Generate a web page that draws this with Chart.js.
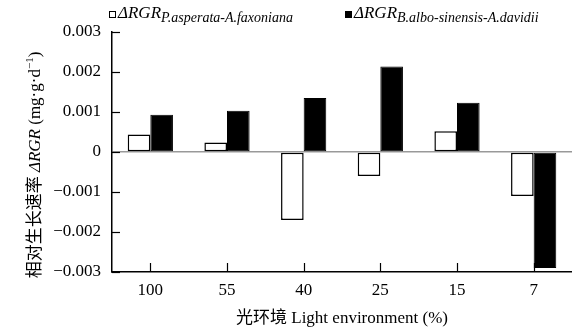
<!DOCTYPE html>
<html>
<head>
<meta charset="utf-8">
<script src="https://cdn.jsdelivr.net/npm/chart.js@4.4.1/dist/chart.umd.min.js"></script>
<style>
  html, body { margin: 0; padding: 0; background: #fff; }
  #wrap { width: 572px; height: 333px; position: relative; }
</style>
</head>
<body>
<div id="wrap"><canvas id="grafico"></canvas></div>
<script>
// datos
var etiquetas = ['100', '55', '40', '25', '15', '7'];
var rgrPicea = [0.00044, 0.00024, -0.0017, -0.0006, 0.00052, -0.0011];
var rgrBetula = [0.00093, 0.00103, 0.00135, 0.00214, 0.00123, -0.0029];
var subPicea = 'P.asperata-A.faxoniana';
var subBetula = 'B.albo-sinensis-A.davidii';
var tituloX = '光环境 Light environment (%)';

var serif = '"Liberation Serif", "Noto Sans CJK SC", serif';

// leyenda, titulo del eje y y marcas interiores
var extras = {
  id: 'extras',
  afterDraw: function (chart) {
    var c = chart.ctx;
    var xs = chart.scales.x, ys = chart.scales.y;
    var area = chart.chartArea;
    c.save();
    c.strokeStyle = '#000';
    c.lineWidth = 1.2;
    // marcas hacia dentro en el eje y
    ys.ticks.forEach(function (t) {
      var py = Math.round(ys.getPixelForValue(t.value)) + 0.5;
      c.beginPath();
      c.moveTo(area.left, py);
      c.lineTo(area.left + 8, py);
      c.stroke();
    });
    // marcas hacia arriba en el eje x
    for (var i = 0; i < etiquetas.length; i++) {
      var px = Math.round(xs.getPixelForValue(i)) + 0.5;
      c.beginPath();
      c.moveTo(px, area.bottom);
      c.lineTo(px, area.bottom - 9);
      c.stroke();
    }

    // leyenda
    function entrada(x, sub, relleno) {
      c.fillStyle = relleno;
      c.strokeStyle = '#000';
      c.lineWidth = 1;
      c.fillRect(x, 11, 7, 7);
      c.strokeRect(x + 0.5, 11.5, 6, 6);
      c.fillStyle = '#000';
      c.textBaseline = 'alphabetic';
      c.textAlign = 'left';
      c.font = 'italic 17px ' + serif;
      c.fillText('ΔRGR', x + 9, 18);
      var w = c.measureText('ΔRGR').width;
      c.font = 'italic 14px ' + serif;
      c.fillText(sub, x + 9 + w, 22);
    }
    entrada(109, subPicea, '#fff');
    entrada(345, subBetula, '#000');

    // titulo eje y con cursiva y superindice
    c.translate(36, 165);
    c.rotate(-Math.PI / 2);
    c.textBaseline = 'middle';
    var partes = [
      ['相对生长速率 ', '17px ' + serif, 0],
      ['ΔRGR', 'italic 17px ' + serif, 0],
      [' (mg·g·d', '17px ' + serif, 0],
      ['−1', '11px ' + serif, -6],
      [')', '17px ' + serif, 0]
    ];
    var total = 0;
    partes.forEach(function (p) { c.font = p[1]; total += c.measureText(p[0]).width; });
    var x0 = -total / 2;
    c.textAlign = 'left';
    partes.forEach(function (p) {
      c.font = p[1];
      c.fillText(p[0], x0, p[2]);
      x0 += c.measureText(p[0]).width;
    });
    c.restore();
  }
};

var ctx = document.getElementById('grafico');
var grafico = new Chart(ctx, {
  type: 'bar',
  plugins: [extras],
  data: {
    labels: etiquetas,
    datasets: [{
      label: 'ΔRGR ' + subPicea,
      data: rgrPicea,
      backgroundColor: '#fff',
      borderColor: '#000',
      borderWidth: 1.5,
      borderSkipped: false
    }, {
      label: 'ΔRGR ' + subBetula,
      data: rgrBetula,
      backgroundColor: '#000',
      borderColor: '#000',
      borderWidth: 1,
      borderSkipped: false
    }]
  },
  options: {
    responsive: true,
    maintainAspectRatio: false,
    animation: false,
    layout: { padding: { top: 32, right: 0, left: 0, bottom: 0 } },
    plugins: {
      legend: { display: false },
      tooltip: { enabled: false }
    },
    datasets: {
      bar: { categoryPercentage: 0.59, barPercentage: 1 }
    },
    scales: {
      x: {
        grid: { display: true, offset: false, drawOnChartArea: false, drawTicks: false },
        border: { color: '#000', width: 1.5 },
        ticks: {
          color: '#000',
          padding: 8,
          font: { family: serif, size: 17 }
        },
        title: {
          display: true,
          text: tituloX,
          color: '#000',
          font: { family: serif, size: 17 },
          padding: { top: 2, bottom: 4 }
        },
        afterFit: function (s) { s.height = 61; }
      },
      y: {
        min: -0.003,
        max: 0.003,
        grid: {
          drawTicks: false,
          color: function (c) { return c.tick && c.tick.value === 0 ? '#999' : 'rgba(0,0,0,0)'; },
          lineWidth: 1.5
        },
        border: { color: '#000', width: 1.5 },
        ticks: {
          stepSize: 0.001,
          color: '#000',
          padding: 11,
          font: { family: serif, size: 17 },
          callback: function (v) {
            var r = Math.round(v * 1000) / 1000;
            if (r === 0) return '0';
            return (r < 0 ? '−' : '') + Math.abs(r).toFixed(3);
          }
        },
        afterFit: function (s) { s.width = 112; }
      }
    }
  }
});
</script>
</body>
</html>
